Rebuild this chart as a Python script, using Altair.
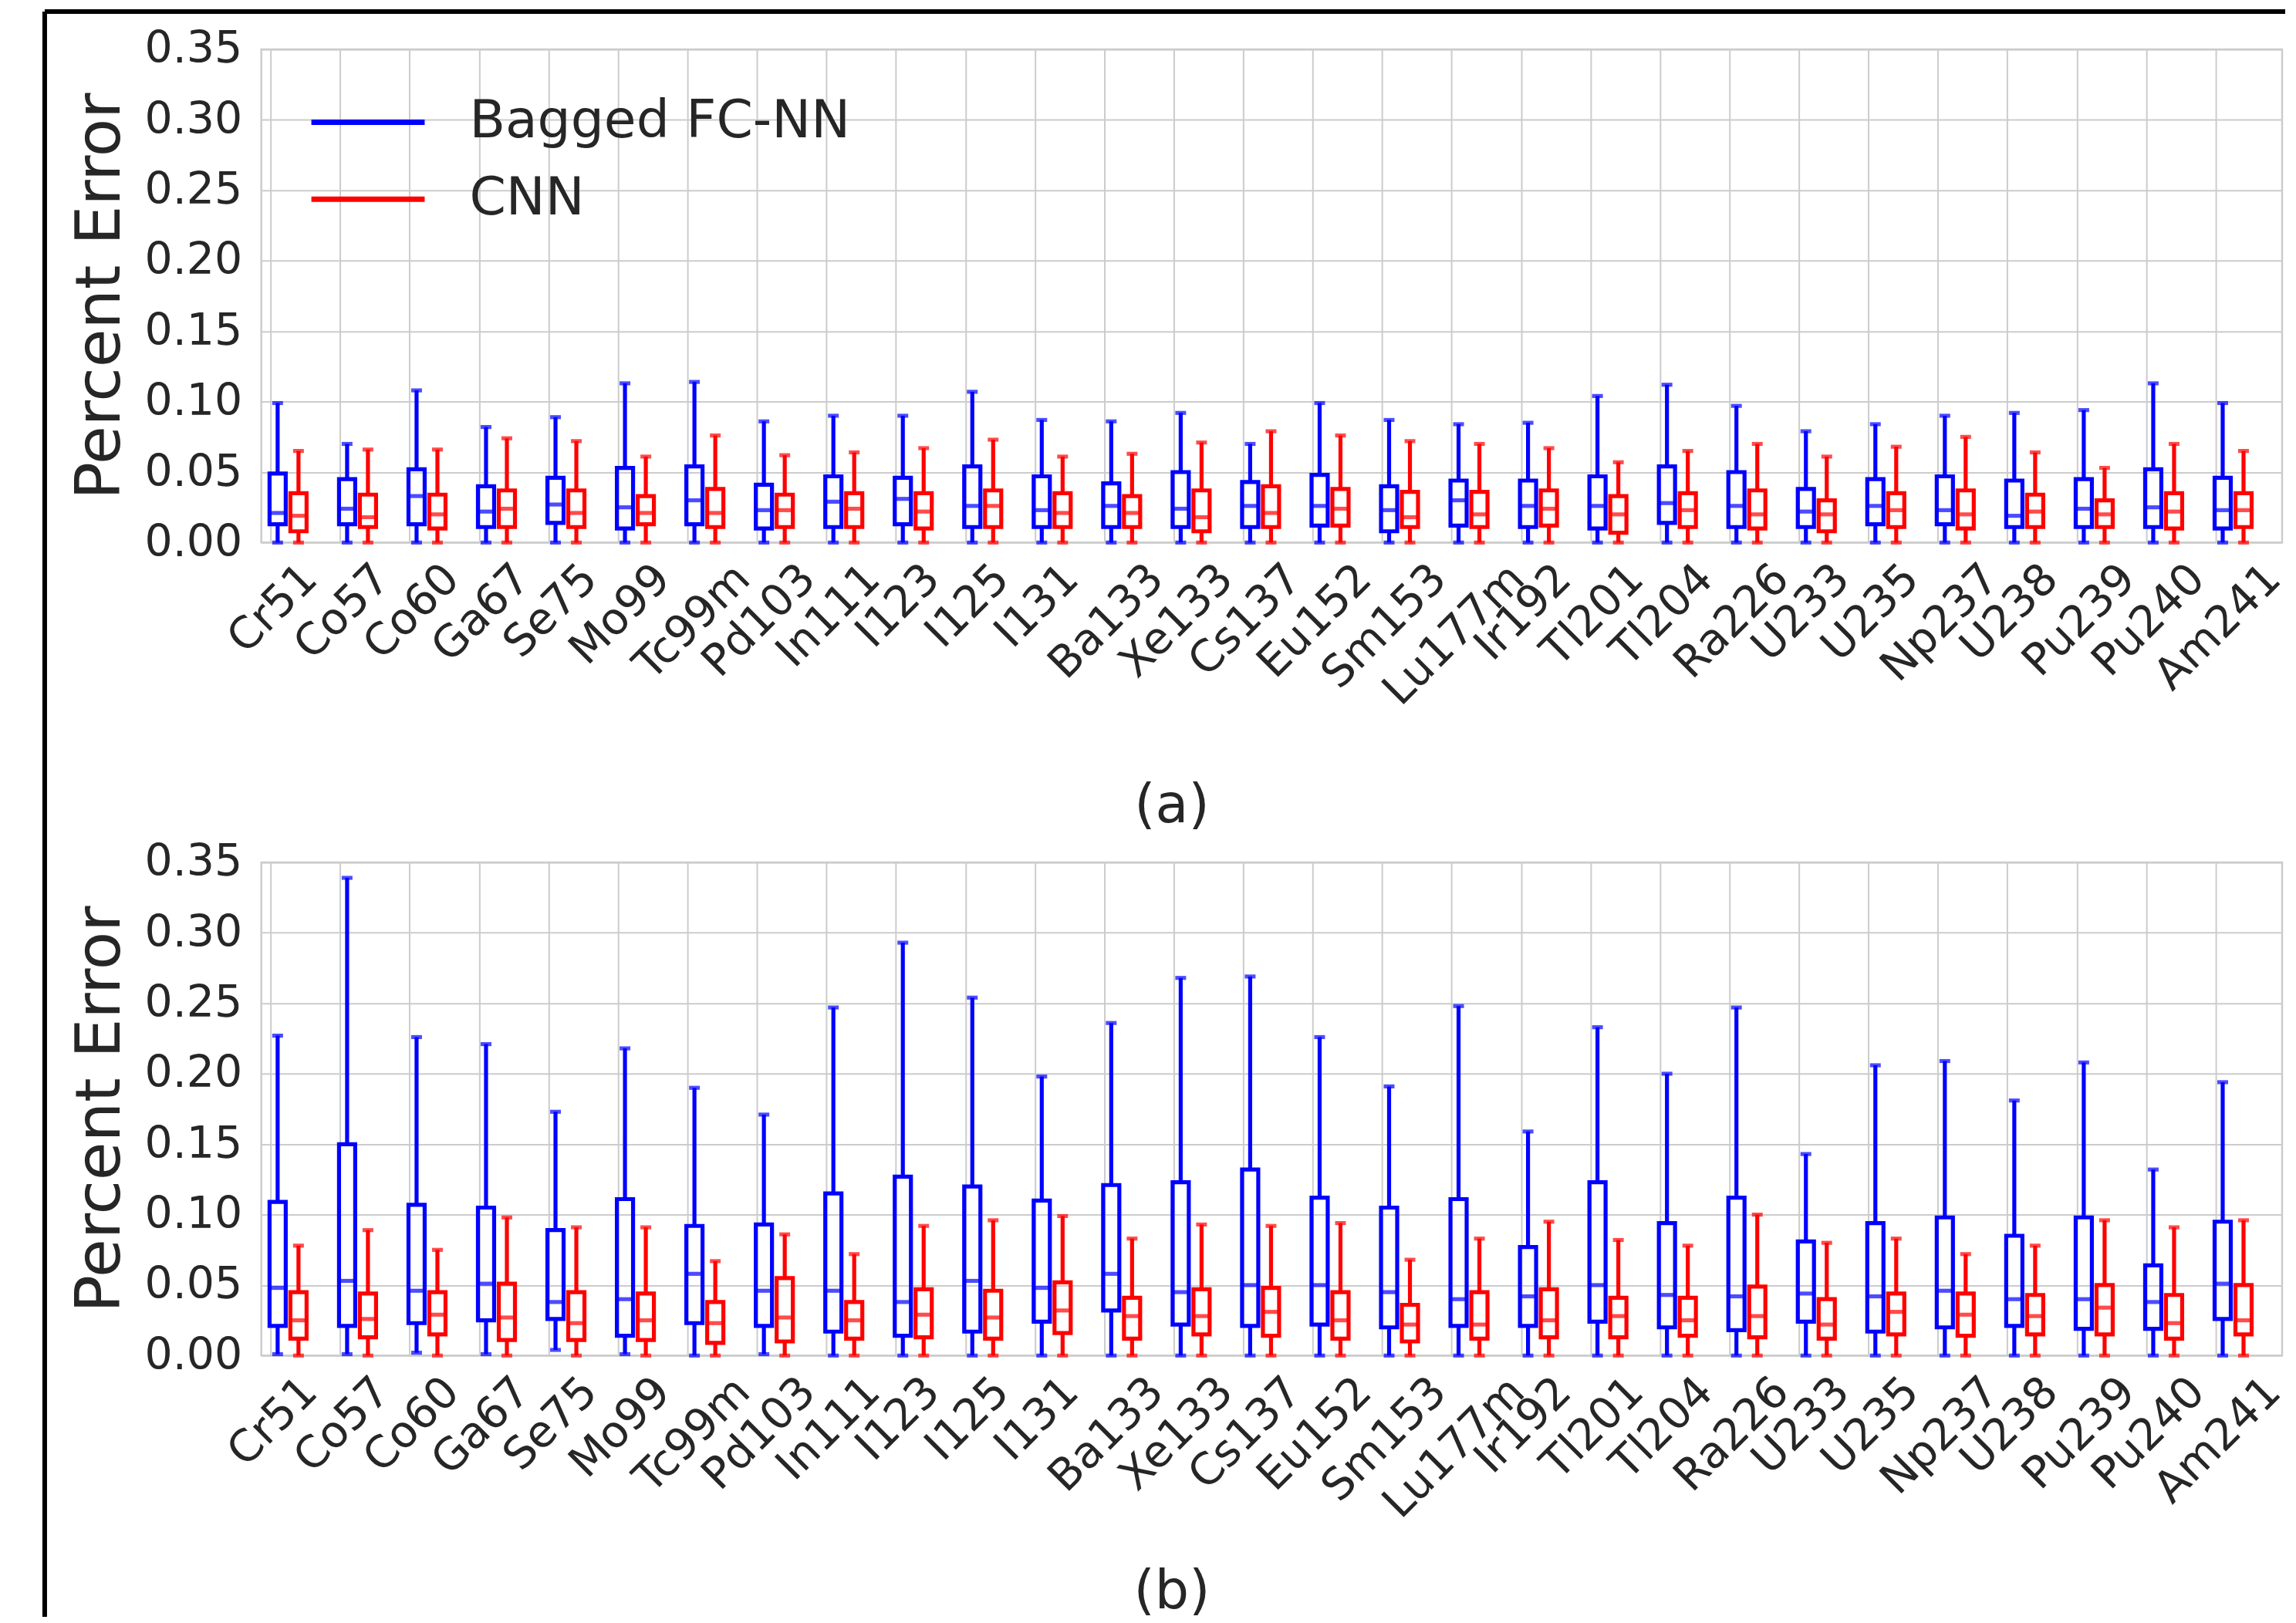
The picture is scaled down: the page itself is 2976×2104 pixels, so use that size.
import altair as alt
import pandas as pd

isotopes = ["Cr51", "Co57", "Co60", "Ga67", "Se75", "Mo99", "Tc99m", "Pd103", "In111",
            "I123", "I125", "I131", "Ba133", "Xe133", "Cs137", "Eu152", "Sm153", "Lu177m",
            "Ir192", "Tl201", "Tl204", "Ra226", "U233", "U235", "Np237", "U238", "Pu239",
            "Pu240", "Am241"]
models = ["Bagged FC-NN", "CNN"]
model_colors = ["#0000ff", "#ff0000"]
y_ticks = [0.0, 0.05, 0.10, 0.15, 0.20, 0.25, 0.30, 0.35]

# ---------------- panel (a) ----------------
a_fcnn_hi = [0.099, 0.070, 0.108, 0.082, 0.089, 0.113, 0.114, 0.086, 0.090, 0.090, 0.107, 0.087, 0.086, 0.092, 0.070,
             0.099, 0.087, 0.084, 0.085, 0.104, 0.112, 0.097, 0.079, 0.084, 0.090, 0.092, 0.094, 0.113, 0.099]
a_fcnn_q3 = [0.049, 0.045, 0.052, 0.040, 0.046, 0.053, 0.054, 0.041, 0.047, 0.046, 0.054, 0.047, 0.042, 0.050, 0.043,
             0.048, 0.040, 0.044, 0.044, 0.047, 0.054, 0.050, 0.038, 0.045, 0.047, 0.044, 0.045, 0.052, 0.046]
a_fcnn_med = [0.021, 0.024, 0.033, 0.022, 0.027, 0.025, 0.030, 0.023, 0.029, 0.031, 0.026, 0.023, 0.026, 0.024, 0.026,
              0.026, 0.023, 0.030, 0.026, 0.026, 0.028, 0.026, 0.022, 0.026, 0.023, 0.019, 0.024, 0.025, 0.023]
a_fcnn_q1 = [0.013, 0.013, 0.013, 0.011, 0.014, 0.010, 0.013, 0.010, 0.011, 0.013, 0.011, 0.011, 0.011, 0.011, 0.011,
             0.012, 0.008, 0.012, 0.011, 0.010, 0.014, 0.011, 0.011, 0.013, 0.013, 0.011, 0.011, 0.011, 0.010]
a_fcnn_lo = [0.0] * 29

a_cnn_hi = [0.065, 0.066, 0.066, 0.074, 0.072, 0.061, 0.076, 0.062, 0.064, 0.067, 0.073, 0.061, 0.063, 0.071, 0.079,
            0.076, 0.072, 0.070, 0.067, 0.057, 0.065, 0.070, 0.061, 0.068, 0.075, 0.064, 0.053, 0.070, 0.065]
a_cnn_q3 = [0.035, 0.034, 0.034, 0.037, 0.037, 0.033, 0.038, 0.034, 0.035, 0.035, 0.037, 0.035, 0.033, 0.037, 0.040,
            0.038, 0.036, 0.036, 0.037, 0.033, 0.035, 0.037, 0.030, 0.035, 0.037, 0.034, 0.030, 0.035, 0.035]
a_cnn_med = [0.019, 0.018, 0.020, 0.024, 0.021, 0.021, 0.021, 0.023, 0.024, 0.022, 0.026, 0.021, 0.021, 0.018, 0.021,
             0.024, 0.018, 0.020, 0.024, 0.020, 0.023, 0.020, 0.020, 0.023, 0.020, 0.022, 0.020, 0.022, 0.023]
a_cnn_q1 = [0.008, 0.011, 0.010, 0.011, 0.011, 0.013, 0.011, 0.011, 0.011, 0.010, 0.011, 0.011, 0.011, 0.008, 0.011,
            0.012, 0.011, 0.011, 0.012, 0.007, 0.011, 0.010, 0.008, 0.011, 0.010, 0.011, 0.011, 0.010, 0.011]
a_cnn_lo = [0.0] * 29

# ---------------- panel (b) ----------------
b_fcnn_hi = [0.227, 0.339, 0.226, 0.221, 0.173, 0.218, 0.190, 0.171, 0.247, 0.293, 0.254, 0.198, 0.236, 0.268, 0.269,
             0.226, 0.191, 0.248, 0.159, 0.233, 0.200, 0.247, 0.143, 0.206, 0.209, 0.181, 0.208, 0.132, 0.194]
b_fcnn_q3 = [0.109, 0.150, 0.107, 0.105, 0.089, 0.111, 0.092, 0.093, 0.115, 0.127, 0.120, 0.110, 0.121, 0.123, 0.132,
             0.112, 0.105, 0.111, 0.077, 0.123, 0.094, 0.112, 0.081, 0.094, 0.098, 0.085, 0.098, 0.064, 0.095]
b_fcnn_med = [0.048, 0.053, 0.046, 0.051, 0.038, 0.040, 0.058, 0.046, 0.046, 0.038, 0.053, 0.048, 0.058, 0.045, 0.050,
              0.050, 0.045, 0.040, 0.042, 0.050, 0.043, 0.042, 0.044, 0.042, 0.046, 0.040, 0.040, 0.038, 0.051]
b_fcnn_q1 = [0.021, 0.021, 0.023, 0.025, 0.026, 0.014, 0.023, 0.021, 0.017, 0.014, 0.017, 0.024, 0.032, 0.022, 0.021,
             0.022, 0.020, 0.021, 0.021, 0.024, 0.020, 0.018, 0.024, 0.017, 0.020, 0.021, 0.019, 0.019, 0.026]
b_fcnn_lo = [0.001, 0.001, 0.002, 0.001, 0.004, 0.001, 0.0, 0.001, 0.0, 0.0, 0.0, 0.0, 0.0, 0.0, 0.0,
             0.0, 0.0, 0.0, 0.0, 0.0, 0.0, 0.0, 0.0, 0.0, 0.0, 0.0, 0.0, 0.0, 0.0]

b_cnn_hi = [0.078, 0.089, 0.075, 0.098, 0.091, 0.091, 0.067, 0.086, 0.072, 0.092, 0.096, 0.099, 0.083, 0.093, 0.092,
            0.094, 0.068, 0.083, 0.095, 0.082, 0.078, 0.100, 0.080, 0.083, 0.072, 0.078, 0.096, 0.091, 0.096]
b_cnn_q3 = [0.045, 0.044, 0.045, 0.051, 0.045, 0.044, 0.038, 0.055, 0.038, 0.047, 0.046, 0.052, 0.041, 0.047, 0.048,
            0.045, 0.036, 0.045, 0.047, 0.041, 0.041, 0.049, 0.040, 0.044, 0.044, 0.043, 0.050, 0.043, 0.050]
b_cnn_med = [0.025, 0.026, 0.029, 0.027, 0.023, 0.025, 0.023, 0.027, 0.025, 0.029, 0.027, 0.032, 0.028, 0.028, 0.031,
             0.025, 0.022, 0.022, 0.025, 0.028, 0.025, 0.028, 0.022, 0.031, 0.029, 0.028, 0.034, 0.023, 0.025]
b_cnn_q1 = [0.012, 0.013, 0.015, 0.011, 0.011, 0.011, 0.009, 0.010, 0.012, 0.013, 0.012, 0.016, 0.012, 0.015, 0.014,
            0.012, 0.010, 0.012, 0.013, 0.013, 0.014, 0.013, 0.012, 0.015, 0.014, 0.015, 0.015, 0.012, 0.015]
b_cnn_lo = [0.0] * 29


def rows(model, lo, q1, med, q3, hi):
    return [dict(model=model, idx=i, isotope=isotopes[i], lo=lo[i], q1=q1[i], med=med[i], q3=q3[i], hi=hi[i])
            for i in range(len(isotopes))]


df_a = pd.DataFrame(rows(models[0], a_fcnn_lo, a_fcnn_q1, a_fcnn_med, a_fcnn_q3, a_fcnn_hi)
                    + rows(models[1], a_cnn_lo, a_cnn_q1, a_cnn_med, a_cnn_q3, a_cnn_hi))
df_b = pd.DataFrame(rows(models[0], b_fcnn_lo, b_fcnn_q1, b_fcnn_med, b_fcnn_q3, b_fcnn_hi)
                    + rows(models[1], b_cnn_lo, b_cnn_q1, b_cnn_med, b_cnn_q3, b_cnn_hi))

# ---------------- styling ----------------
FONT = "DejaVu Sans"
TXT = "#262626"
GRID = "#cccccc"
TICK_FS = 57
W, H = 2622, 640
SW = 5.2
BOX_W = 21
CAP_W = 14

# DejaVu Sans advance widths (em) to centre the rotated labels on their tick
EM = {'A': .684, 'B': .686, 'C': .698, 'E': .632, 'G': .775, 'I': .295, 'L': .557, 'M': .863, 'N': .748,
      'P': .603, 'R': .695, 'S': .635, 'T': .611, 'U': .732, 'X': .685, 'a': .613, 'c': .550, 'd': .635,
      'e': .615, 'l': .278, 'm': .974, 'n': .634, 'o': .612, 'p': .635, 'r': .411, 's': .521, 'u': .634}


def text_w(s):
    return sum(EM.get(ch, 0.636) for ch in s) * TICK_FS


label_conds = [{"test": f"datum.value == {i}", "value": round(0.354 * text_w(n) - 0.30 * TICK_FS, 1)}
               for i, n in enumerate(isotopes)]
label_expr = "[" + ",".join(f"'{n}'" for n in isotopes) + "][datum.value]"


def x_axis(letter, title_y):
    return alt.Axis(values=list(range(len(isotopes))), labelExpr=label_expr, labelAngle=315,
                    labelAlign="right", labelBaseline="top", labelFontSize=TICK_FS, labelPadding=18,
                    labelOffset={"condition": label_conds, "value": 0}, labelOverlap=False,
                    labelFlush=False, labelBound=False, labelLimit=0, ticks=False, tickSize=0,
                    domain=False, grid=True, gridColor=GRID, gridWidth=2,
                    title=letter, titleFontSize=70, titleFontWeight="normal", titleX=1181,
                    titleY=title_y, titleBaseline="middle", titleAlign="center")


y_axis = alt.Axis(values=y_ticks, format=".2f", labelFontSize=TICK_FS, labelPadding=25, labelLimit=0,
                  ticks=False, tickSize=0, domain=False, grid=True, gridColor=GRID, gridWidth=2,
                  title="Percent Error", titleFontSize=81, titleFontWeight="normal", titleX=-184,
                  titleY=H / 2, titleBaseline="alphabetic", titleAngle=270, titleAlign="center")

legend = alt.Legend(title=None, orient="none", legendX=98, legendY=54, symbolType="M-2,0H2",
                    symbolSize=5402, symbolStrokeWidth=7, labelFontSize=68, labelLimit=0,
                    rowPadding=25, labelOffset=91, padding=0, symbolOffset=0)


def panel(df, letter, title_y, show_legend):
    base = alt.Chart(df).transform_calculate(
        pos="datum.idx + (datum.model === 'Bagged FC-NN' ? 0.1 : 0.4)")
    x = alt.X("pos:Q", scale=alt.Scale(domain=[-0.08, 28.9], nice=False, zero=False),
              axis=x_axis(letter, title_y))
    ys = alt.Scale(domain=[0, 0.35], nice=False, zero=False)

    def col(leg):
        return alt.Color("model:N", scale=alt.Scale(domain=models, range=model_colors),
                         legend=(legend if (leg and show_legend) else None))

    def y(field):
        return alt.Y(f"{field}:Q", scale=ys, axis=y_axis)

    lower = base.mark_rule(strokeWidth=SW).encode(x=x, y=y("lo"), y2="q1:Q", color=col(True))
    upper = base.mark_rule(strokeWidth=SW).encode(x=x, y=y("q3"), y2="hi:Q", color=col(False))
    box = base.mark_bar(filled=False, size=BOX_W, strokeWidth=SW).encode(
        x=x, y=y("q1"), y2="q3:Q", color=col(False))
    med = base.mark_tick(orient="horizontal", size=BOX_W, thickness=SW).encode(
        x=x, y=y("med"), color=col(False))
    cap_hi = base.mark_tick(orient="horizontal", size=CAP_W, thickness=SW).encode(
        x=x, y=y("hi"), color=col(False))
    cap_lo = base.mark_tick(orient="horizontal", size=CAP_W, thickness=SW).encode(
        x=x, y=y("lo"), color=col(False))
    return [lower, upper, box, med, cap_hi, cap_lo]


frame_src = alt.Chart(pd.DataFrame({"k": [0]}))
frame_left = frame_src.mark_rule(color="black", strokeWidth=6).encode(
    x=alt.value(-281), y=alt.value(-49), y2=alt.value(2034))
frame_top = frame_src.mark_rule(color="black", strokeWidth=6).encode(
    x=alt.value(-281), x2=alt.value(2626), y=alt.value(-49))

top = alt.layer(frame_left, frame_top, *panel(df_a, "(a)", 342, True)).properties(width=W, height=H)
bottom = alt.layer(*panel(df_b, "(b)", 307, False)).properties(width=W, height=H)

chart = (
    alt.vconcat(top, bottom, spacing=415, bounds="flush")
    .resolve_scale(color="independent")
    .properties(padding={"left": 45, "top": 1, "right": 0, "bottom": 0})
    .configure(font=FONT)
    .configure_view(stroke=GRID, strokeWidth=2.5)
    .configure_axis(labelFont=FONT, titleFont=FONT, labelColor=TXT, titleColor=TXT)
    .configure_legend(labelFont=FONT, labelColor=TXT)
)

chart.save("out.html", embed_options={"renderer": "svg", "actions": False})
